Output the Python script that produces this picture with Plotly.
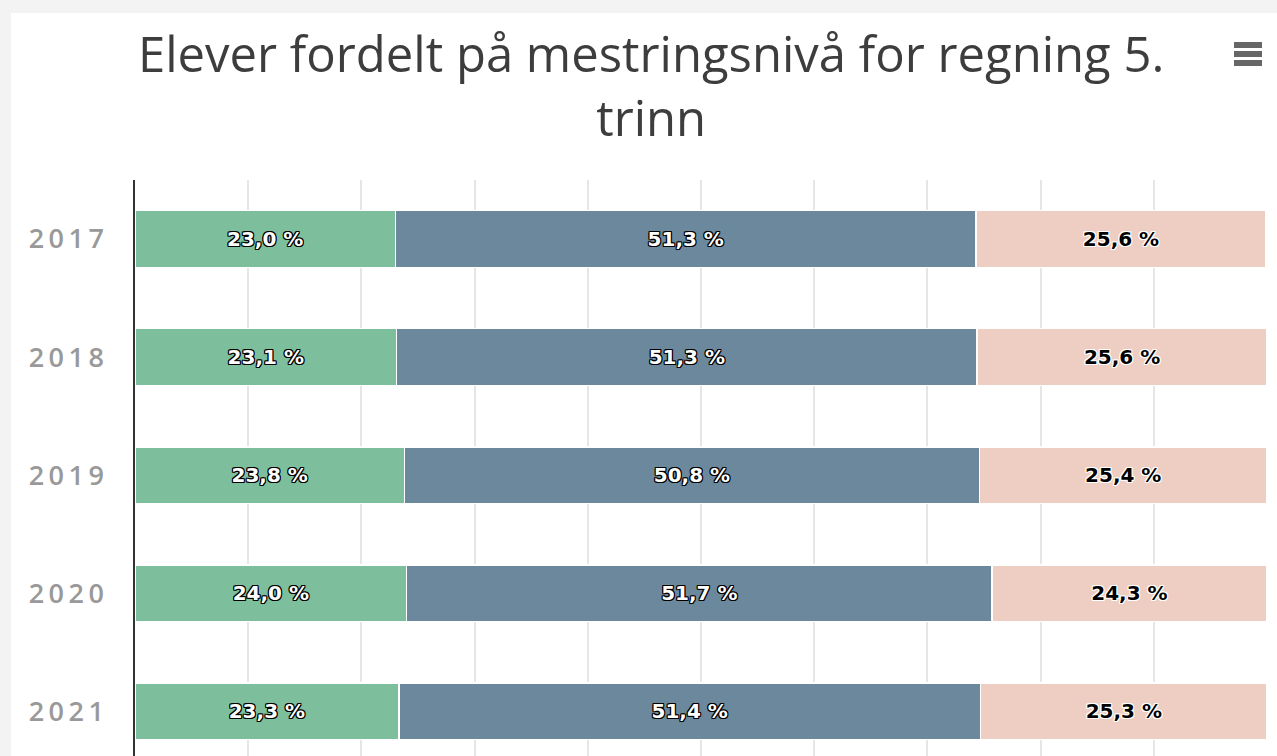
import plotly.graph_objects as go

years = ["2017", "2018", "2019", "2020", "2021"]
series_names = ["Nivå 1", "Nivå 2", "Nivå 3"]
lvl1 = [23.0, 23.1, 23.8, 24.0, 23.3]
lvl2 = [51.3, 51.3, 50.8, 51.7, 51.4]
lvl3 = [25.6, 25.6, 25.4, 24.3, 25.3]
colors = ["#7dbe9c", "#6c889d", "#eecec2"]
title_text = "Elever fordelt på mestringsnivå for regning 5.<br>trinn"

W, H = 1277, 756
L, R, T, B = 135, 10, 180, 0
pw, ph = W - L - R, H - T - B

def px_x(p):
    return (p - L) / pw

def px_y(p):
    return (H - B - p) / ph

def lab(v):
    return f"{v:.1f}".replace(".", ",") + " %"

outline_dark = "1px 1px 0 #000, -1px -1px 0 #000, 1px -1px 0 #000, -1px 1px 0 #000, 0 1px 0 #000, 0 -1px 0 #000, 1px 0 0 #000, -1px 0 0 #000"
outline_light = "1px 1px 0 #fff, -1px -1px 0 #fff, 1px -1px 0 #fff, -1px 1px 0 #fff, 0 1px 0 #fff, 0 -1px 0 #fff, 1px 0 0 #fff, -1px 0 0 #fff"

fig = go.Figure()
for name, vals, col, tcol, sh in [
    (series_names[0], lvl1, colors[0], "#ffffff", outline_dark),
    (series_names[1], lvl2, colors[1], "#ffffff", outline_dark),
    (series_names[2], lvl3, colors[2], "#000000", outline_light),
]:
    fig.add_trace(go.Bar(
        y=years, x=vals, orientation="h", name=name,
        marker=dict(color=col, line=dict(color="#ffffff", width=1.5)),
        text=[lab(v) for v in vals], textposition="inside",
        insidetextanchor="middle",
        textfont=dict(family="DejaVu Sans", size=20, color=tcol, weight="bold", shadow=sh),
        hoverinfo="skip",
    ))

fig.update_layout(
    barmode="stack", bargap=0.52,
    width=W, height=H,
    margin=dict(l=L, r=R, t=T, b=B),
    paper_bgcolor="#f3f3f3", plot_bgcolor="rgba(0,0,0,0)",
    showlegend=False,
    uniformtext=dict(mode=False),
    xaxis=dict(range=[0, 100], dtick=10, showticklabels=False, ticks="",
               showgrid=True, gridcolor="#e6e6e6", gridwidth=2, zeroline=False,
               fixedrange=True),
    yaxis=dict(type="category", categoryorder="array", categoryarray=years,
               range=[4.38, -0.5], showgrid=False, zeroline=False,
               showline=True, linecolor="#333333", linewidth=1.5,
               ticks="", ticklabelstandoff=24,
               tickmode="array", tickvals=years,
               ticktext=["\u2009".join(list(y)) for y in years],
               tickfont=dict(family="Open Sans", size=27, color="#999999", weight=600),
               fixedrange=True),
)

# white panel
fig.add_shape(type="rect", xref="paper", yref="paper", layer="below",
              x0=px_x(11), x1=px_x(W + 5), y0=px_y(H + 5), y1=px_y(13),
              fillcolor="#ffffff", line=dict(width=0))

# menu icon
for yy in (45, 54, 63):
    fig.add_shape(type="line", xref="paper", yref="paper",
                  x0=px_x(1234), x1=px_x(1262), y0=px_y(yy), y1=px_y(yy),
                  line=dict(color="#666666", width=6))

fig.add_annotation(
    text=title_text,
    xref="paper", yref="paper", x=px_x(651), y=px_y(18),
    xanchor="center", yanchor="top", showarrow=False, align="center",
    font=dict(family="Open Sans", size=49, color="#3d3d3d"),
)

fig.write_html("out.html", config={"displayModeBar": False},
               post_script="document.body.style.margin='0';document.body.style.overflow='hidden';")
